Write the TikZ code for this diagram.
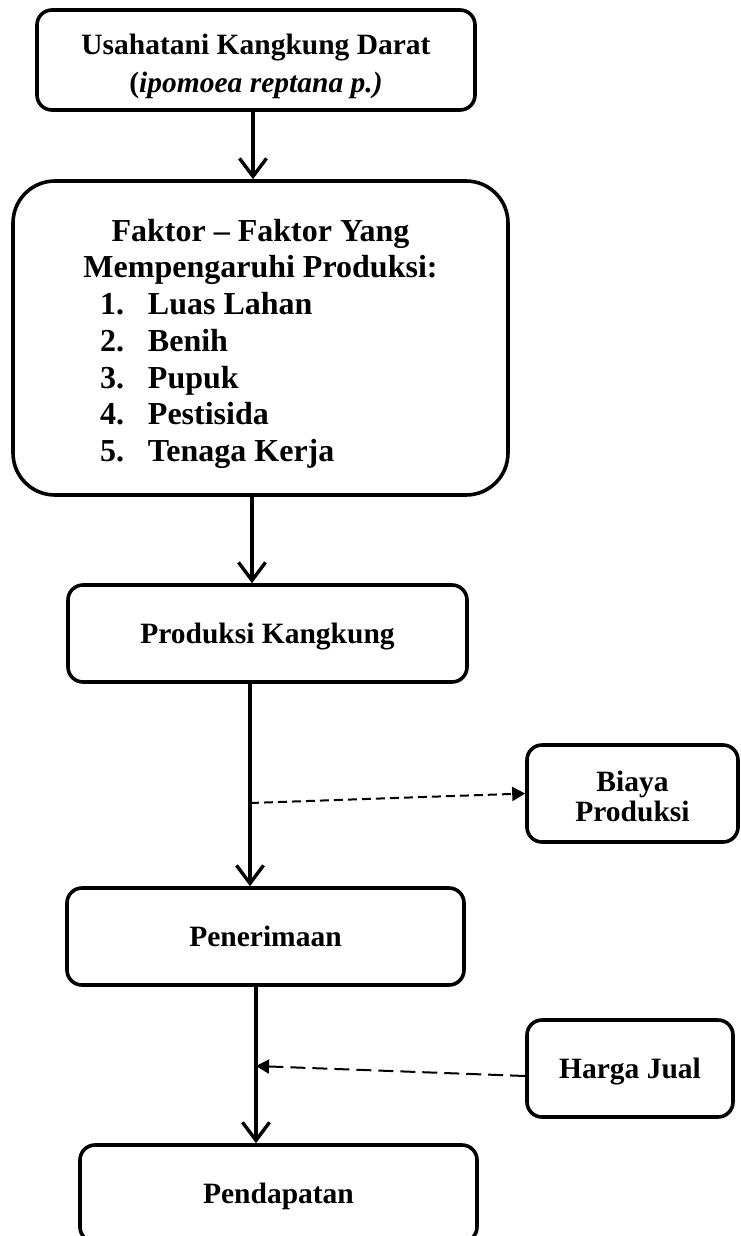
\documentclass[tikz,border=0pt]{standalone}
\usepackage{fontspec}
\setmainfont{Liberation Serif}
\usetikzlibrary{arrows.meta}
\begin{document}
\begin{tikzpicture}[x=1pt,y=-1pt,
  box/.style={draw=black, line width=3.6pt, rounded corners=15pt, inner sep=0pt, align=center,
              font=\bfseries\fontsize{29.5}{37}\selectfont},
  oneline/.style={text height=20pt, text depth=0pt},
  mainarrow/.style={line width=3.4pt, -{Straight Barb[length=18pt,width=27pt,line width=3.4pt]}},
  dasharrow/.style={line width=2pt, -{Triangle[length=13pt,width=14pt]}}
]
\useasboundingbox (0,0) rectangle (740,1236);
\clip (0,0) rectangle (740,1236);
\fill[white] (0,0) rectangle (740,1236);

% boxes
\node[box, minimum width=438pt, minimum height=100pt] (b1) at (256,60)
  {\raisebox{-6pt}[\height][\depth]{\begin{tabular}{@{}c@{}}Usahatani Kangkung Darat\\[1pt](\textit{ipomoea reptana p.)}\end{tabular}}};

\node[box, rounded corners=42pt, minimum width=495pt, minimum height=314pt,
      font=\bfseries\fontsize{32}{36.7}\selectfont] (b2) at (260.5,338)
  {\raisebox{-6pt}[\height][\depth]{\begin{tabular}{@{}c@{}}
   Faktor -- Faktor Yang\\
   Mempengaruhi Produksi:\\
   \makebox[321pt][l]{\makebox[48pt][l]{1.}Luas Lahan}\\
   \makebox[321pt][l]{\makebox[48pt][l]{2.}Benih}\\
   \makebox[321pt][l]{\makebox[48pt][l]{3.}Pupuk}\\
   \makebox[321pt][l]{\makebox[48pt][l]{4.}Pestisida}\\
   \makebox[321pt][l]{\makebox[48pt][l]{5.}Tenaga Kerja}
   \end{tabular}}};

\node[box, oneline, minimum width=399pt, minimum height=97pt] (b3) at (267.5,633.5) {Produksi Kangkung};
\node[box, minimum width=211pt, minimum height=97pt, font=\bfseries\fontsize{29.5}{30}\selectfont] (b4) at (632.5,793.5)
  {\raisebox{-7pt}[\height][\depth]{\begin{tabular}{@{}c@{}}Biaya\\Produksi\end{tabular}}};
\node[box, oneline, minimum width=397pt, minimum height=97pt] (b5) at (265.5,936.5) {Penerimaan};
\node[box, oneline, minimum width=206pt, minimum height=97pt] (b6) at (630,1068.5) {Harga Jual};
\node[box, oneline, minimum width=397pt, minimum height=97pt] (b7) at (278.5,1193.5) {Pendapatan};

% guide coordinates on the main line
\coordinate (m1) at (253,0);
\coordinate (m2) at (252,0);
\coordinate (m3) at (250,0);
\coordinate (m4) at (256,0);
\coordinate (s1) at (250,803);
\coordinate (s2) at (256,1066);

% connectors
\draw[mainarrow] (b1.south -| m1) -- (b2.north -| m1);
\draw[mainarrow] (b2.south -| m2) -- (b3.north -| m2);
\draw[mainarrow] (b3.south -| m3) -- (b5.north -| m3);
\draw[mainarrow] (b5.south -| m4) -- (b7.north -| m4);
\draw[dasharrow, dash pattern=on 9pt off 5pt] (s1) -- (b4.west);
\draw[dasharrow, dash pattern=on 15pt off 7pt] ([yshift=-7.5pt]b6.west) -- (s2);
\end{tikzpicture}
\end{document}
